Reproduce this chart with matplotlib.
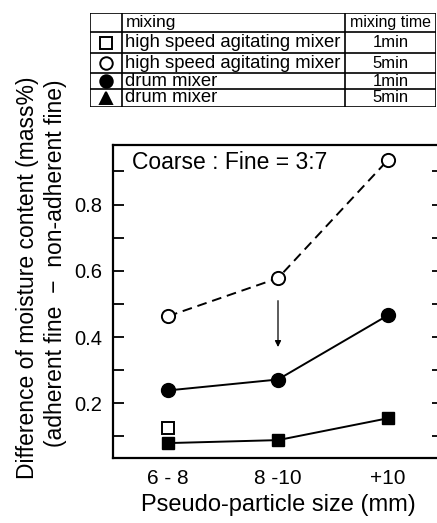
import matplotlib
matplotlib.use("Agg")
import matplotlib.pyplot as plt
from matplotlib.ticker import MultipleLocator

plt.rcParams["font.family"] = ["Liberation Sans", "DejaVu Sans"]

# data
sizes = ["6 - 8", "8 -10", "+10"]
open_circle = [0.463, 0.578, 0.935]    # high speed agitating mixer, 5min
filled_circle = [0.239, 0.272, 0.466]  # drum mixer, 1min
filled_square = [0.080, 0.089, 0.155]  # drum mixer, 5min
open_square = [0.125]                  # high speed agitating mixer, 1min (6-8 only)

legend_mixing = ["high speed agitating mixer", "high speed agitating mixer",
                 "drum mixer", "drum mixer"]
legend_time = ["1min", "5min", "1min", "5min"]
legend_marker = ["s", "o", "o", "^"]
legend_fill = ["none", "none", "k", "k"]

W, H = 437, 523
fig = plt.figure(figsize=(W / 100, H / 100), dpi=100)

# ---- main axes ----
ax = fig.add_axes([113 / W, 1 - 458 / H, 330 / W, 313 / H])
x = range(len(sizes))
ax.plot(x, open_circle, ls=(0, (5, 3)), lw=1.4, color="k", marker="o",
        ms=9.5, mfc="white", mec="k", mew=1.4, zorder=3)
ax.plot(x, filled_circle, ls="-", lw=1.4, color="k", marker="o", ms=10,
        mfc="k", mec="k", zorder=3)
ax.plot(x, filled_square, ls="-", lw=1.4, color="k", marker="s", ms=9,
        mfc="k", mec="k", zorder=3)
ax.plot([0], open_square, ls="none", marker="s", ms=9, mfc="white",
        mec="k", mew=1.4, zorder=2)

ax.annotate("", xy=(1, 0.37), xytext=(1, 0.51),
            arrowprops=dict(arrowstyle="-|>", color="k", lw=0.9,
                            mutation_scale=9, shrinkA=0, shrinkB=0))
ax.text(-0.33, 0.926, "Coarse : Fine = 3:7", fontsize=16.5, va="center", ha="left")

ax.set_xlim(-0.5, 2.5)
ax.set_ylim(0.035, 0.98)
ax.set_xticks(list(x))
ax.set_xticklabels(sizes, fontsize=15)
ax.set_yticks([0.2, 0.4, 0.6, 0.8])
ax.set_yticklabels(["0.2", "0.4", "0.6", "0.8"], fontsize=14.5)
ax.yaxis.set_minor_locator(MultipleLocator(0.1))
ax.tick_params(axis="y", which="both", direction="in", length=8, width=1.3,
               right=True, pad=8)
ax.tick_params(axis="x", length=0, pad=8)
for s in ax.spines.values():
    s.set_linewidth(1.6)
ax.set_xlabel("Pseudo-particle size (mm)", fontsize=17, labelpad=4)

fig.text(28 / W, 1 - 278 / H, "Difference of moisture content (mass%)",
         rotation=90, fontsize=16.5, ha="center", va="center")
fig.text(56 / W, 1 - 263 / H, "(adherent fine  \u2212  non-adherent fine)",
         rotation=90, fontsize=16.5, ha="center", va="center")

# ---- legend table ----
tab = fig.add_axes([90 / W, 1 - 107 / H, 346 / W, 94 / H])
tab.set_xlim(90, 436)
tab.set_ylim(107, 13)
tab.axis("off")
rows_y = [13, 32, 53, 73, 89, 107]
cols_x = [90, 122, 345, 436]
for yy in rows_y:
    tab.plot([cols_x[0], cols_x[-1]], [yy, yy], color="k", lw=1.2)
for xx in cols_x:
    tab.plot([xx, xx], [rows_y[0], rows_y[-1]], color="k", lw=1.2)
tab.text(cols_x[1] + 4, (rows_y[0] + rows_y[1]) / 2, "mixing", fontsize=12.5,
         va="center", ha="left")
tab.text((cols_x[2] + cols_x[3]) / 2, (rows_y[0] + rows_y[1]) / 2, "mixing time",
         fontsize=11.5, va="center", ha="center")
for i in range(4):
    yc = (rows_y[i + 1] + rows_y[i + 2]) / 2
    tab.plot((cols_x[0] + cols_x[1]) / 2, yc, marker=legend_marker[i], ms=9,
             mfc=legend_fill[i], mec="k", mew=1.4, ls="none")
    tab.text(cols_x[1] + 3, yc, legend_mixing[i], fontsize=13.3, va="center", ha="left")
    tab.text((cols_x[2] + cols_x[3]) / 2, yc, legend_time[i], fontsize=12,
             va="center", ha="center")

fig.savefig("out.png", dpi=100)
